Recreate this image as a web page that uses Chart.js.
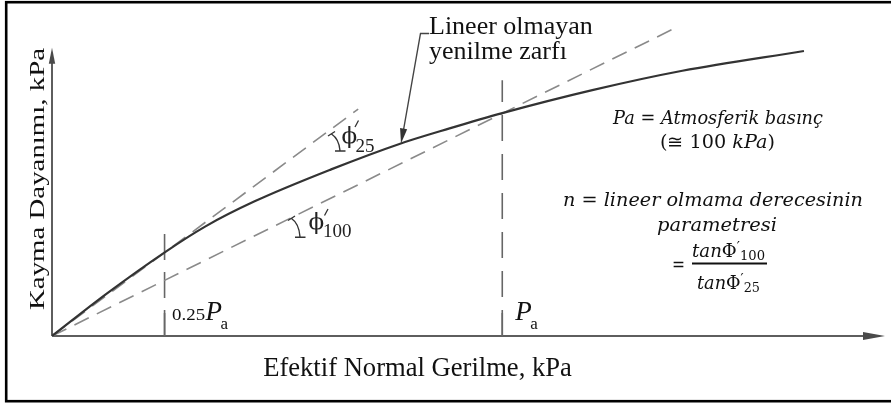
<!DOCTYPE html>
<html>
<head>
<meta charset="utf-8">
<script src="https://cdn.jsdelivr.net/npm/chart.js@4.4.1/dist/chart.umd.min.js"></script>
<style>
  body { margin: 0; background: #fff; }
  #wrap { width: 891px; height: 403px; position: relative; }
</style>
</head>
<body>
<div id="wrap"><canvas id="line-chart"></canvas></div>
<script>
// envelope (x = effective normal stress, y = shear strength, kPa)
const curveX = [0, 12, 25.2, 34, 45, 62, 77, 88.3, 100, 120, 140, 167];
const curveY = [0, 9.3, 18.7, 24.3, 29.9, 37.0, 42.6, 46.1, 49.5, 54.6, 58.9, 63.3];

// secant lines through the envelope at 0.25Pa and Pa
const sec25X = [0, 68];
const sec25Y = [0, 50.4];
const sec100X = [0, 138.8];
const sec100Y = [0, 68.6];

// vertical reference lines
const refX = [25, 100];
const refTop = [22.9, 56.8];
const refLabels = ["0.25", ""];

const xMax = 185;
const yMax = 72;
const yAxisEnd = 64;

const serif = '"Liberation Serif", "Times New Roman", serif';
const mathFont = '"DejaVu Serif", serif';

function pts(xs, ys) {
  return xs.map(function (x, i) {
    return { x: x, y: ys[i] };
  });
}

function arrowHead(ctx, x1, y1, x2, y2, len, half) {
  const a = Math.atan2(y2 - y1, x2 - x1);
  ctx.beginPath();
  ctx.moveTo(x2, y2);
  ctx.lineTo(x2 - len * Math.cos(a) + half * Math.sin(a), y2 - len * Math.sin(a) - half * Math.cos(a));
  ctx.lineTo(x2 - len * Math.cos(a) - half * Math.sin(a), y2 - len * Math.sin(a) + half * Math.cos(a));
  ctx.closePath();
  ctx.fill();
}

// draw a row of text pieces, squeezed/stretched to a given width
function runs(ctx, parts, x, y, width, align) {
  let total = 0;
  parts.forEach(function (p) {
    ctx.font = p.font;
    total += ctx.measureText(p.t).width + (p.gap || 0);
  });
  const sx = width ? width / total : 1;
  ctx.save();
  ctx.translate(align === "center" ? x - (total * sx) / 2 : x, y);
  ctx.scale(sx, 1);
  ctx.textAlign = "left";
  ctx.textBaseline = "alphabetic";
  let cx = 0;
  parts.forEach(function (p) {
    ctx.font = p.font;
    ctx.fillText(p.t, cx, p.dy || 0);
    cx += ctx.measureText(p.t).width + (p.gap || 0);
  });
  ctx.restore();
}

const backdrop = {
  id: "backdrop",
  beforeDraw: function (chart) {
    const ctx = chart.ctx;
    ctx.save();
    ctx.fillStyle = "#fff";
    ctx.fillRect(0, 0, chart.width, chart.height);
    ctx.restore();
  },
  beforeDatasetsDraw: function (chart) {
    const ctx = chart.ctx;
    const xs = chart.scales.x;
    const ys = chart.scales.y;
    const x0 = xs.getPixelForValue(0);
    const y0 = ys.getPixelForValue(0);
    const xe = xs.getPixelForValue(xMax);
    const ye = ys.getPixelForValue(yAxisEnd);
    ctx.save();
    ctx.strokeStyle = "#5e5e5e";
    ctx.fillStyle = "#4a4a4a";
    ctx.lineWidth = 2;
    ctx.beginPath();
    ctx.moveTo(x0, y0);
    ctx.lineTo(xe - 12, y0);
    ctx.moveTo(x0, y0);
    ctx.lineTo(x0, ye + 10);
    ctx.stroke();
    arrowHead(ctx, x0, y0, xe, y0, 22, 4);
    arrowHead(ctx, x0, y0, x0, ye, 16, 3.2);

    // small solid ticks at the foot of the reference lines
    ctx.strokeStyle = "#666";
    ctx.lineWidth = 1.6;
    refX.forEach(function (v) {
      const px = xs.getPixelForValue(v);
      ctx.beginPath();
      ctx.moveTo(px, y0);
      ctx.lineTo(px, y0 - 23);
      ctx.stroke();
    });
    ctx.restore();
  },
  afterDraw: function (chart) {
    const ctx = chart.ctx;
    const xs = chart.scales.x;
    ctx.save();
    ctx.fillStyle = "#111";

    // axis titles
    ctx.font = "26.6px " + serif;
    ctx.textAlign = "center";
    ctx.fillText("Efektif Normal Gerilme, kPa", 417.5, 375.5);
    ctx.save();
    ctx.translate(44, 179);
    ctx.rotate(-Math.PI / 2);
    runs(ctx, [{ t: "Kayma Dayanımı, kPa", font: "20px " + serif }], 0, 0, 262, "center");
    ctx.restore();

    // reference line labels
    const p25 = xs.getPixelForValue(refX[0]);
    const p100 = xs.getPixelForValue(refX[1]);
    runs(ctx, [{ t: refLabels[0], font: "16px " + serif }], p25 + 7.5, 319.5, 33, "left");
    ctx.font = "italic 27px " + serif;
    ctx.textAlign = "left";
    ctx.fillText("P", p25 + 41, 320);
    ctx.fillText("P", p100 + 13, 320);
    ctx.font = "17px " + serif;
    ctx.fillText("a", p25 + 56, 328.5);
    ctx.fillText("a", p100 + 28, 328.5);

    // leader label
    ctx.font = "26px " + serif;
    ctx.fillText("Lineer olmayan", 429, 33.5);
    ctx.fillText("yenilme zarfı", 429, 58.5);
    ctx.strokeStyle = "#444";
    ctx.fillStyle = "#333";
    ctx.lineWidth = 1.4;
    ctx.beginPath();
    ctx.moveTo(429, 33.5);
    ctx.lineTo(420.5, 33.5);
    ctx.lineTo(403.5, 130);
    ctx.stroke();
    arrowHead(ctx, 420.5, 33.5, 401, 143.5, 15, 3.6);

    // angle marks
    ctx.strokeStyle = "#333";
    ctx.lineWidth = 1.4;
    [[331.5, 134, 340, 150.5], [291.5, 218.5, 300, 236.7]].forEach(function (m) {
      ctx.beginPath();
      ctx.moveTo(m[0] - 3.5, m[1] + 2);
      ctx.lineTo(m[0] + 3.5, m[1] - 2.5);
      ctx.moveTo(m[0], m[1]);
      ctx.quadraticCurveTo(m[2] - 1, m[1] + 5, m[2], m[3]);
      ctx.moveTo(m[2] - 5, m[3] + 0.5);
      ctx.lineTo(m[2] + 5.5, m[3] + 0.5);
      ctx.stroke();
    });
    ctx.fillStyle = "#222";
    ctx.font = "23px " + mathFont;
    ctx.fillText("ϕ", 341.5, 142.5);
    ctx.fillText("ϕ", 308.5, 228.5);
    ctx.font = "19px " + serif;
    ctx.fillText("25", 355.5, 152);
    ctx.fillText("100", 323, 237);
    ctx.lineWidth = 1.3;
    ctx.beginPath();
    ctx.moveTo(355, 127);
    ctx.lineTo(358.5, 120.5);
    ctx.moveTo(324.5, 215.5);
    ctx.lineTo(328, 209);
    ctx.stroke();

    // notes on the right
    ctx.fillStyle = "#111";
    const it = "italic 18px " + mathFont;
    const up = "18px " + mathFont;
    runs(ctx, [{ t: "Pa", font: it }, { t: " = ", font: up }, { t: "Atmosferik basınç", font: it }], 718, 124, 210, "center");
    runs(ctx, [{ t: "(≅ 100 ", font: up }, { t: "kPa", font: it }, { t: ")", font: up }], 717.5, 148, 115, "center");
    runs(ctx, [{ t: "n", font: it }, { t: " = ", font: up }, { t: "lineer olmama derecesinin", font: it }], 713, 205.5, 300, "center");
    runs(ctx, [{ t: "parametresi", font: it }], 717, 231, 120, "center");
    runs(ctx, [{ t: "=", font: up }], 678.5, 271, 13, "center");
    runs(ctx, [
      { t: "tan", font: it },
      { t: "Φ", font: up },
      { t: "′", font: "14px " + mathFont, dy: -5 },
      { t: "100", font: "13px " + mathFont, dy: 3 }
    ], 692, 257, 73, "left");
    runs(ctx, [
      { t: "tan", font: it },
      { t: "Φ", font: up },
      { t: "′", font: "14px " + mathFont, dy: -5 },
      { t: "25", font: "13px " + mathFont, dy: 3 }
    ], 697, 288.5, 63, "left");
    ctx.fillRect(692, 262.5, 75, 2);

    // frame
    ctx.strokeStyle = "#000";
    ctx.lineWidth = 2.6;
    ctx.strokeRect(6.2, 2.2, 900, 399);
    ctx.restore();
  }
};

new Chart(document.getElementById("line-chart"), {
  type: "scatter",
  data: {
    datasets: [
      {
        label: "zarf",
        data: pts(curveX, curveY),
        showLine: true,
        borderColor: "#333",
        borderWidth: 2.2,
        pointRadius: 0,
        cubicInterpolationMode: "monotone",
        order: 1
      },
      {
        label: "phi25",
        data: pts(sec25X, sec25Y),
        showLine: true,
        borderColor: "#8a8a8a",
        borderWidth: 1.6,
        borderDash: [16, 9],
        pointRadius: 0,
        order: 2
      },
      {
        label: "phi100",
        data: pts(sec100X, sec100Y),
        showLine: true,
        borderColor: "#8a8a8a",
        borderWidth: 1.6,
        borderDash: [16, 9],
        pointRadius: 0,
        order: 2
      },
      {
        label: "pa25",
        data: pts([refX[0], refX[0]], [0, refTop[0]]),
        showLine: true,
        borderColor: "#666",
        borderWidth: 1.6,
        borderDash: [26, 12],
        pointRadius: 0,
        order: 3
      },
      {
        label: "pa100",
        data: pts([refX[1], refX[1]], [0, refTop[1]]),
        showLine: true,
        borderColor: "#666",
        borderWidth: 1.6,
        borderDash: [26, 13],
        pointRadius: 0,
        order: 3
      }
    ]
  },
  options: {
    responsive: true,
    maintainAspectRatio: false,
    animation: false,
    layout: { padding: { left: 52, right: 6, top: 11.8, bottom: 67 } },
    scales: {
      x: { type: "linear", min: 0, max: xMax, display: false },
      y: { type: "linear", min: 0, max: yMax, display: false }
    },
    plugins: {
      legend: { display: false },
      tooltip: { enabled: false },
      title: { display: false }
    }
  },
  plugins: [backdrop]
});
</script>
</body>
</html>
